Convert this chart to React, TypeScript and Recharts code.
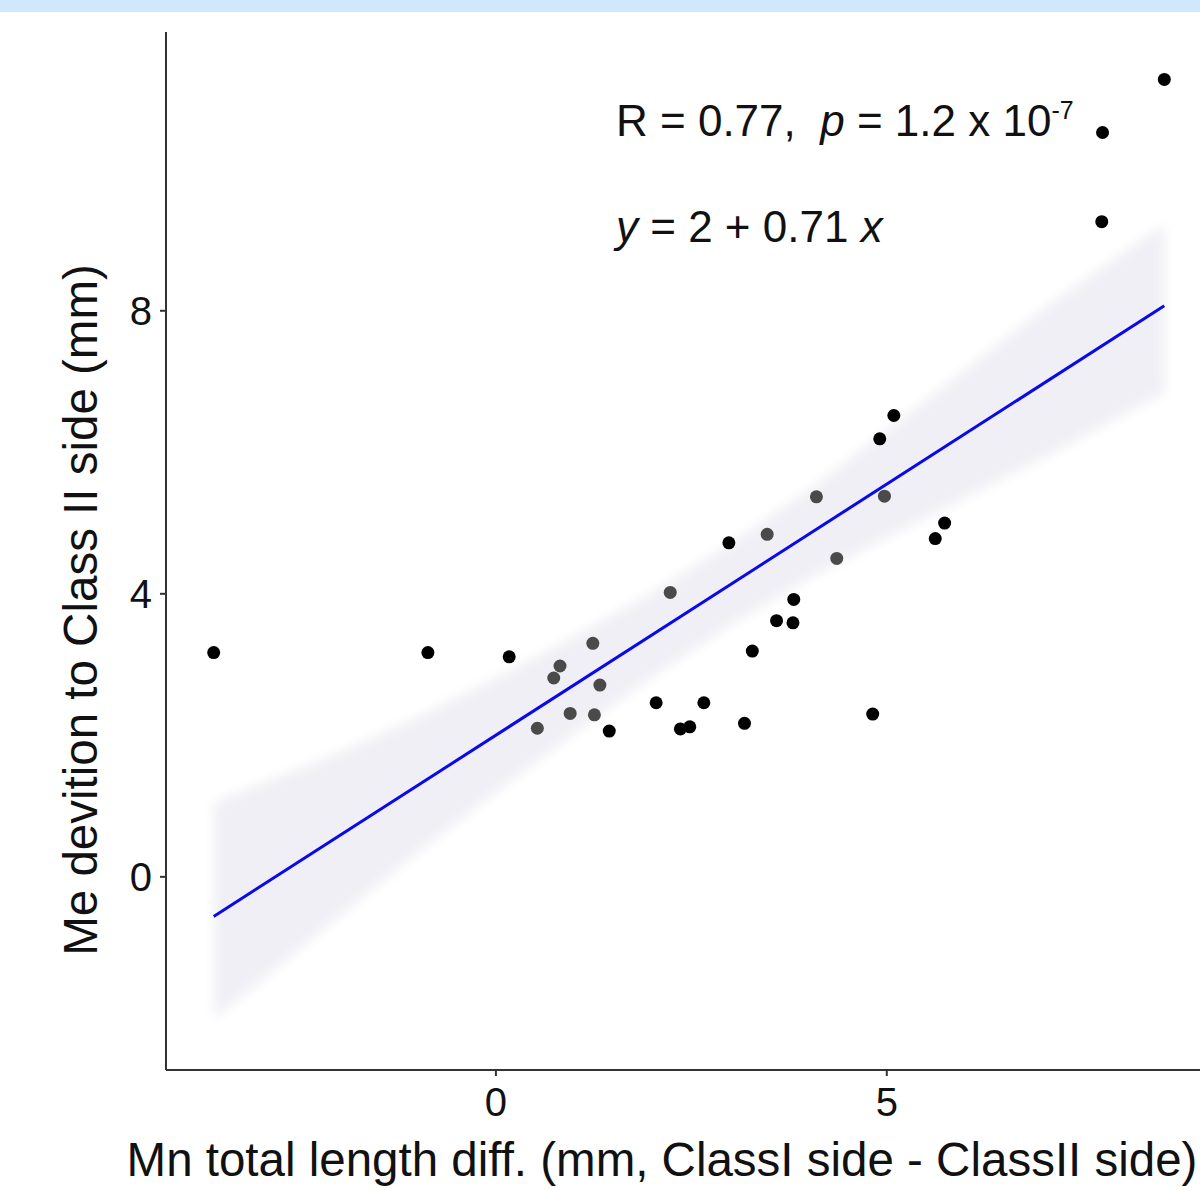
import React from 'react';
import { ComposedChart, Scatter, Line, Area, XAxis, YAxis } from 'recharts';

// points that sit outside the confidence band (drawn black)
const blackX = [-3.61, -0.87, 0.17, 1.45, 2.05, 2.36, 2.48, 2.66, 2.98, 3.18, 3.28, 3.59, 3.8, 3.81, 4.82, 4.91, 5.09, 5.62, 5.74, 7.75, 7.76, 8.55];
const blackY = [3.17, 3.17, 3.11, 2.06, 2.46, 2.09, 2.12, 2.46, 4.72, 2.17, 3.19, 3.62, 3.59, 3.92, 2.3, 6.19, 6.52, 4.78, 5.0, 9.26, 10.52, 11.27];

// points covered by the band (they look grey)
const grayX = [0.53, 0.74, 0.82, 0.95, 1.24, 1.26, 1.33, 2.23, 3.47, 4.1, 4.36, 4.97];
const grayY = [2.1, 2.81, 2.98, 2.31, 3.3, 2.29, 2.71, 4.02, 4.84, 5.37, 4.5, 5.38];

// fitted line y = 2 + 0.71x, drawn between the data extremes
const fitX = [-3.61, 8.55];
const fitY = [-0.56, 8.07];

// confidence band
const bandX = [-3.6, -2, -1, 0, 1, 2, 3, 4, 5, 6, 7, 8.55];
const bandLow = [-2.0, -0.55, 0.35, 1.2, 2.03, 2.83, 3.56, 4.22, 4.8, 5.36, 5.92, 6.85];
const bandHigh = [1.05, 1.75, 2.25, 2.8, 3.39, 4.01, 4.7, 5.46, 6.3, 7.16, 8.02, 9.22];

const xTicks = [0, 5];
const yTicks = [0, 4, 8];

const blackPts = blackX.map((x, i) => ({ x, y: blackY[i] }));
const grayPts = grayX.map((x, i) => ({ x, y: grayY[i] }));
const fitPts = fitX.map((x, i) => ({ x, y: fitY[i] }));
const bandPts = bandX.map((x, i) => ({ x, band: [bandLow[i], bandHigh[i]] }));

const FONT = '"Liberation Sans", Arial, sans-serif';

const dot = (color: string) => (p: any) => <circle cx={p.cx} cy={p.cy} r={6.5} fill={color} />;

export default function App() {
  return (
    <div style={{ position: 'absolute', left: 0, top: 0, width: 1200, height: 1190, overflow: 'hidden', background: '#fff', fontFamily: FONT }}>
      <svg width={0} height={0} style={{ position: 'absolute' }}>
        <defs>
          <filter id="bandBlur" x="-10%" y="-10%" width="120%" height="120%">
            <feGaussianBlur stdDeviation="6" />
          </filter>
        </defs>
      </svg>
      <ComposedChart width={1212} height={1190} margin={{ top: 32, right: 0, bottom: 0, left: 0 }}>
        <XAxis
          type="number"
          dataKey="x"
          domain={[-4.22, 9.16]}
          ticks={xTicks}
          height={120}
          allowDataOverflow
          axisLine={{ stroke: '#333', strokeWidth: 2 }}
          tickLine={{ stroke: '#333', strokeWidth: 2 }}
          tickSize={6}
          tickMargin={12}
          tick={{ fill: '#111', fontSize: 40, fontFamily: FONT }}
        />
        <YAxis
          type="number"
          domain={[-2.73, 11.94]}
          ticks={yTicks}
          width={166}
          allowDataOverflow
          axisLine={{ stroke: '#333', strokeWidth: 2 }}
          tickLine={{ stroke: '#333', strokeWidth: 2 }}
          tickSize={6}
          tickMargin={8}
          tick={{ fill: '#111', fontSize: 40, fontFamily: FONT }}
        />
        <Area
          data={bandPts}
          dataKey="band"
          type="linear"
          fill="#e4e4ee"
          fillOpacity={0.6}
          stroke="none"
          filter="url(#bandBlur)"
          isAnimationActive={false}
        />
        <Scatter data={blackPts} dataKey="y" shape={dot('#000')} isAnimationActive={false} />
        <Scatter data={grayPts} dataKey="y" shape={dot('#4a4a4a')} isAnimationActive={false} />
        <Line data={fitPts} dataKey="y" type="linear" stroke="#0a0ae6" strokeWidth={3} dot={false} isAnimationActive={false} />
      </ComposedChart>

      <svg width={1200} height={1190} style={{ position: 'absolute', left: 0, top: 0, pointerEvents: 'none' }} fontFamily={FONT}>
        <text x={616} y={136} fontSize={44} fill="#111">
          {'R = 0.77,\u00a0 '}
          <tspan fontStyle="italic">p</tspan>
          {' = 1.2 x 10'}
          <tspan fontSize={25} dy={-17}>-7</tspan>
        </text>
        <text x={616} y={242} fontSize={44} fill="#111">
          <tspan fontStyle="italic">y</tspan>
          {' = 2 + 0.71 '}
          <tspan fontStyle="italic">x</tspan>
        </text>
        <text x={662} y={1176} fontSize={47.5} fill="#111" textAnchor="middle">
          Mn total length diff. (mm, ClassI side - ClassII side)
        </text>
        <text x={97} y={610} fontSize={47.5} fill="#111" textAnchor="middle" transform="rotate(-90 97 610)">
          Me devition to Class II side (mm)
        </text>
      </svg>

      <div style={{ position: 'absolute', left: 0, top: 0, width: 1200, height: 12, background: '#cfe8fb' }} />
    </div>
  );
}
